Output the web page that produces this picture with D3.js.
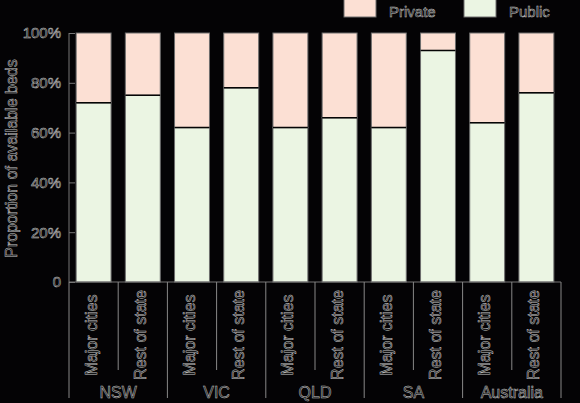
<!DOCTYPE html>
<meta http-equiv="Content-type" content="text/html; charset=UTF-8"/>
<style>
  html, body { margin: 0; padding: 0; background: #040305; }
  * { font-family: 'Liberation Sans', Arial, sans-serif }
  .lbl { fill: #161616; stroke: #c4c4c4; stroke-width: 0.5px; }
</style>
<svg width="580" height="403"></svg>
<script src="https://d3js.org/d3.v7.min.js"></script>
<script>
var groups = ["NSW", "VIC", "QLD", "SA", "Australia"];
var regions = ["Major cities", "Rest of state"];
var publicPct = [72, 75, 62, 78, 62, 66, 62, 93, 64, 76];
var privatePct = [28, 25, 38, 22, 38, 34, 38, 7, 36, 24];
var yTicks = [0, 20, 40, 60, 80, 100];
var yTickLabels = ["0", "20%", "40%", "60%", "80%", "100%"];
var seriesNames = ["Private", "Public"];
var seriesColors = ["#fce0d4", "#ebf5e3"];

var svg = d3.select("svg"),
    margin = {top: 33, right: 19, bottom: 121, left: 69},
    width = +svg.attr("width") - margin.left - margin.right,
    height = +svg.attr("height") - margin.top - margin.bottom,
    g = svg.append("g").attr("transform", "translate(" + margin.left + "," + margin.top + ")");

// one band per bar, keyed by index
var keys = publicPct.map(function(d, i) { return i; });

var x = d3.scaleBand()
    .domain(keys)
    .range([0, width])
    .paddingInner(0.29)
    .paddingOuter(0.145);

var y = d3.scaleLinear()
    .domain([0, 100])
    .range([height, 0]);

var data = keys.map(function(i) {
  return {i: i, Public: publicPct[i], Private: privatePct[i]};
});

var stack = d3.stack().keys(["Public", "Private"]);
var layers = stack(data);
var color = d3.scaleOrdinal().domain(seriesNames).range(seriesColors);

g.selectAll(".layer")
  .data(layers)
  .enter().append("g")
    .attr("fill", function(d) { return color(d.key); })
  .selectAll("rect")
  .data(function(d) { return d; })
  .enter().append("rect")
    .attr("x", function(d) { return x(d.data.i); })
    .attr("y", function(d) { return y(d[1]); })
    .attr("width", x.bandwidth())
    .attr("height", function(d) { return y(d[0]) - y(d[1]); })
    .attr("stroke", "#6e6e6e")
    .attr("stroke-width", 1);

// dark divider between public and private
g.selectAll(".divider")
  .data(data)
  .enter().append("line")
    .attr("x1", function(d) { return x(d.i); })
    .attr("x2", function(d) { return x(d.i) + x.bandwidth(); })
    .attr("y1", function(d) { return y(d.Public); })
    .attr("y2", function(d) { return y(d.Public); })
    .attr("stroke", "#050505")
    .attr("stroke-width", 1.5);

// y axis, ticks pointing inward
var yAxis = g.append("g")
    .call(d3.axisRight(y).tickValues(yTicks).tickSize(6)
      .tickFormat(function(d, i) { return yTickLabels[i]; }));
yAxis.select(".domain").attr("stroke", "#777").attr("d", "M0," + height + "V0");
yAxis.selectAll(".tick line").attr("stroke", "#777");
yAxis.selectAll(".tick text")
    .attr("class", "lbl")
    .attr("x", -8)
    .attr("text-anchor", "end")
    .style("font-size", "15px");

// baseline
g.append("line")
    .attr("x1", 0).attr("x2", width)
    .attr("y1", height).attr("y2", height)
    .attr("stroke", "#777");

// y axis title
g.append("text")
    .attr("class", "lbl")
    .attr("transform", "translate(" + (-52) + "," + (height / 2 + 1) + ") rotate(-90)")
    .attr("text-anchor", "middle")
    .style("font-size", "16px")
    .text("Proportion of available beds");

// category labels
g.selectAll(".cat")
  .data(keys)
  .enter().append("text")
    .attr("class", "lbl")
    .attr("transform", function(i) {
      return "translate(" + (x(i) + x.bandwidth() / 2 + 3) + "," + (height + 53) + ") rotate(-90)";
    })
    .attr("text-anchor", "middle")
    .style("font-size", "16px")
    .text(function(i) { return regions[i % 2]; });

// separators
var step = x.step();
var x0 = x(0) - x.paddingOuter() * step;
keys.forEach(function(i) {
  var edge = x0 + i * step;
  g.append("line")
      .attr("x1", edge).attr("x2", edge)
      .attr("y1", height)
      .attr("y2", height + (i % 2 === 0 ? 116 : 88))
      .attr("stroke", "#888");
});
g.append("line")
    .attr("x1", width).attr("x2", width)
    .attr("y1", height).attr("y2", height + 116)
    .attr("stroke", "#888");

// group labels
g.selectAll(".grp")
  .data(groups)
  .enter().append("text")
    .attr("class", "lbl")
    .attr("x", function(d, j) { return x0 + (2 * j + 1) * step; })
    .attr("y", height + 116)
    .attr("text-anchor", "middle")
    .style("font-size", "16px")
    .text(function(d) { return d; });

// legend
var legend = svg.append("g");
var legendX = [344, 464];
seriesNames.forEach(function(name, i) {
  legend.append("rect")
      .attr("x", legendX[i]).attr("y", -2)
      .attr("width", 32).attr("height", 19)
      .attr("fill", color(name))
      .attr("stroke", "#6e6e6e");
  legend.append("text")
      .attr("class", "lbl")
      .attr("x", legendX[i] + 45).attr("y", 17)
      .style("font-size", "15px")
      .text(name);
});
</script>
